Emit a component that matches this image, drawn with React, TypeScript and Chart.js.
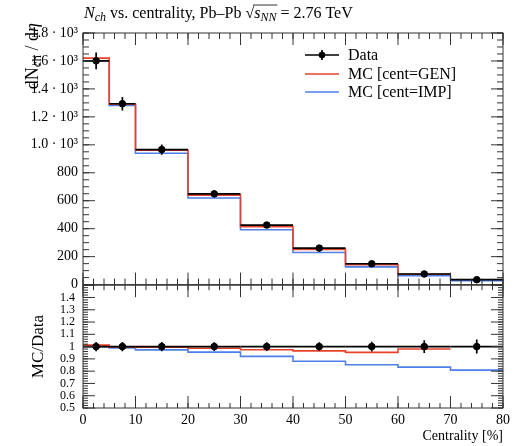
import React, { useEffect, useRef } from "react";
import { Chart, registerables } from "chart.js";
Chart.register(...registerables);

// ---- data ----
const binEdges = [0, 5, 10, 20, 30, 40, 50, 60, 70, 80];
const dataValues = [1601, 1294, 966, 649, 426, 261, 149, 76, 35];
const dataErrors = [60, 49, 37, 23, 15, 9, 6, 4, 2];
const mcGenValues = [1620, 1290, 961, 640, 415, 252, 142, 74.5];
const mcImpValues = [1601, 1281, 940, 620, 392, 230, 127, 63.3, 28.3];

// ---- tick labels ----
const mainTickValues = [0, 200, 400, 600, 800, 1000, 1200, 1400, 1600, 1800];
const mainTickLabels = ["0", "200", "400", "600", "800", "1.0 · 10³", "1.2 · 10³", "1.4 · 10³", "1.6 · 10³", "1.8 · 10³"];
const ratioTickValues = [0.5, 0.6, 0.7, 0.8, 0.9, 1.0, 1.1, 1.2, 1.3, 1.4];
const ratioTickLabels = ["0.5", "0.6", "0.7", "0.8", "0.9", "1", "1.1", "1.2", "1.3", "1.4"];
const xTickValues = [0, 10, 20, 30, 40, 50, 60, 70, 80];
const xTickLabels = ["0", "10", "20", "30", "40", "50", "60", "70", "80"];
const legendLabels = ["Data", "MC [cent=GEN]", "MC [cent=IMP]"];

const RED = "#E8432A";
const BLUE = "#4F7FEA";
const FRAME = "#333";
const SERIF = '"Liberation Serif", "DejaVu Serif", serif';

function stepPoints(vals: number[], denom?: number[]) {
  const pts = vals.map((v, i) => ({ x: binEdges[i], y: denom ? v / denom[i] : v }));
  pts.push({ x: binEdges[vals.length], y: pts[pts.length - 1].y });
  return pts;
}

function labelFor(values: number[], labels: string[]) {
  return (v: any) => {
    const i = values.findIndex((t) => Math.abs(t - Number(v)) < 1e-6);
    return i >= 0 ? labels[i] : "";
  };
}

function range(a: number, b: number, s: number) {
  const out: number[] = [];
  for (let v = a; v <= b + 1e-9; v += s) out.push(Math.round(v * 1000) / 1000);
  return out;
}

function framePlugin(yMajor: number[], yMinor: number[], majLen: number, minLen: number) {
  const xMinor = range(0, 80, 2);
  return {
    id: "frameTicks",
    afterDatasetsDraw(chart: any) {
      const { ctx, chartArea: a } = chart;
      const xs = chart.scales.x;
      const ys = chart.scales.y;
      ctx.save();
      ctx.strokeStyle = FRAME;
      ctx.lineWidth = 1;
      ctx.strokeRect(a.left, a.top, a.right - a.left, a.bottom - a.top);
      ctx.beginPath();
      const xt = (v: number, len: number) => {
        const px = xs.getPixelForValue(v);
        ctx.moveTo(px, a.bottom);
        ctx.lineTo(px, a.bottom - len);
        ctx.moveTo(px, a.top);
        ctx.lineTo(px, a.top + len);
      };
      const yt = (v: number, len: number) => {
        const py = ys.getPixelForValue(v);
        ctx.moveTo(a.left, py);
        ctx.lineTo(a.left + len, py);
        ctx.moveTo(a.right, py);
        ctx.lineTo(a.right - len, py);
      };
      xMinor.forEach((v) => xt(v, minLen));
      xTickValues.forEach((v) => xt(v, majLen));
      yMinor.forEach((v) => yt(v, minLen));
      yMajor.forEach((v) => yt(v, majLen));
      ctx.stroke();
      ctx.restore();
    },
  };
}

function dataMarksPlugin(ratio: boolean) {
  return {
    id: "dataMarks",
    afterDatasetsDraw(chart: any) {
      const { ctx } = chart;
      const xs = chart.scales.x;
      const ys = chart.scales.y;
      ctx.save();
      ctx.strokeStyle = "#000";
      ctx.fillStyle = "#000";
      ctx.lineWidth = 1.7;
      dataValues.forEach((v, i) => {
        const y = ratio ? 1 : v;
        const e = ratio ? dataErrors[i] / v : dataErrors[i];
        const x0 = xs.getPixelForValue(binEdges[i]);
        const x1 = xs.getPixelForValue(binEdges[i + 1]);
        const xc = xs.getPixelForValue((binEdges[i] + binEdges[i + 1]) / 2);
        const py = ys.getPixelForValue(y);
        ctx.beginPath();
        ctx.moveTo(x0, py);
        ctx.lineTo(x1, py);
        ctx.moveTo(xc, ys.getPixelForValue(y - e));
        ctx.lineTo(xc, ys.getPixelForValue(y + e));
        ctx.stroke();
      });
      ctx.restore();
    },
  };
}

type Piece = { t: string; font: string; dy?: number };
function drawPieces(ctx: CanvasRenderingContext2D, x: number, y: number, pieces: Piece[]) {
  for (const p of pieces) {
    ctx.font = p.font;
    ctx.fillText(p.t, x, y + (p.dy || 0));
    x += ctx.measureText(p.t).width;
  }
  return x;
}

const textPlugin = {
  id: "texts",
  afterDraw(chart: any) {
    const ctx: CanvasRenderingContext2D = chart.ctx;
    ctx.save();
    ctx.fillStyle = "#000";
    ctx.textAlign = "left";
    ctx.textBaseline = "alphabetic";
    // title
    const F = `16px ${SERIF}`;
    const FI = `italic 16px ${SERIF}`;
    const FS = `italic 12px ${SERIF}`;
    let x = drawPieces(ctx, 84, 18, [
      { t: "N", font: FI },
      { t: "ch", font: FS, dy: 3 },
      { t: " vs. centrality, Pb–Pb ", font: F },
      { t: "√", font: F },
    ]);
    const ovStart = x;
    x = drawPieces(ctx, x, 18, [
      { t: "s", font: FI },
      { t: "NN", font: FS, dy: 3 },
    ]);
    ctx.strokeStyle = "#000";
    ctx.lineWidth = 0.8;
    ctx.beginPath();
    ctx.moveTo(ovStart - 1, 5);
    ctx.lineTo(x + 1, 5);
    ctx.stroke();
    drawPieces(ctx, x, 18, [{ t: " = 2.76 TeV", font: F }]);

    // y label (rotated)
    const YL: Piece[] = [
      { t: "dN", font: `18px ${SERIF}` },
      { t: "ch", font: `13px ${SERIF}`, dy: 3 },
      { t: " / d", font: `18px ${SERIF}` },
      { t: "η", font: `italic 18px ${SERIF}` },
    ];
    let w = 0;
    for (const p of YL) {
      ctx.font = p.font;
      w += ctx.measureText(p.t).width;
    }
    ctx.translate(38, 23);
    ctx.rotate(-Math.PI / 2);
    drawPieces(ctx, -w, 0, YL);
    ctx.restore();

    // legend
    ctx.save();
    const lx0 = 305, lx1 = 339, tx = 348;
    const rows = [55, 74, 92];
    ctx.lineWidth = 1.7;
    ctx.strokeStyle = "#000";
    ctx.fillStyle = "#000";
    ctx.beginPath();
    ctx.moveTo(lx0, rows[0]);
    ctx.lineTo(lx1, rows[0]);
    ctx.moveTo((lx0 + lx1) / 2, rows[0] - 5);
    ctx.lineTo((lx0 + lx1) / 2, rows[0] + 5);
    ctx.stroke();
    ctx.beginPath();
    ctx.arc((lx0 + lx1) / 2, rows[0], 3.3, 0, Math.PI * 2);
    ctx.fill();
    [RED, BLUE].forEach((c, k) => {
      ctx.strokeStyle = c;
      ctx.lineWidth = 1.7;
      ctx.beginPath();
      ctx.moveTo(lx0, rows[k + 1]);
      ctx.lineTo(lx1, rows[k + 1]);
      ctx.stroke();
    });
    ctx.font = `16px ${SERIF}`;
    ctx.textBaseline = "middle";
    legendLabels.forEach((l, k) => ctx.fillText(l, tx, rows[k] + 1));
    ctx.restore();
  },
};

const ratioTextPlugin = {
  id: "ratioTexts",
  afterDraw(chart: any) {
    const ctx: CanvasRenderingContext2D = chart.ctx;
    const a = chart.chartArea;
    ctx.save();
    ctx.fillStyle = "#000";
    ctx.font = `17px ${SERIF}`;
    ctx.textAlign = "center";
    ctx.textBaseline = "alphabetic";
    ctx.translate(43, (a.top + a.bottom) / 2);
    ctx.rotate(-Math.PI / 2);
    ctx.fillText("MC/Data", 0, 0);
    ctx.restore();
  },
};

function stepDataset(label: string, pts: any[], color: string) {
  return {
    label,
    data: pts,
    borderColor: color,
    backgroundColor: color,
    borderWidth: 1.6,
    pointRadius: 0,
    stepped: "before" as const,
    fill: false,
  };
}

export default function App() {
  const mainRef = useRef<HTMLCanvasElement>(null);
  const ratioRef = useRef<HTMLCanvasElement>(null);

  useEffect(() => {
    const dataPts = dataValues.map((v, i) => ({ x: (binEdges[i] + binEdges[i + 1]) / 2, y: v }));
    const ratioDataPts = dataValues.map((v, i) => ({ x: (binEdges[i] + binEdges[i + 1]) / 2, y: 1 }));

    const common = {
      responsive: false,
      animation: false as const,
      plugins: { legend: { display: false }, tooltip: { enabled: false }, title: { display: false } },
    };

    const c1 = new Chart(mainRef.current!, {
      type: "line",
      data: {
        datasets: [
          {
            label: "Data",
            data: dataPts,
            showLine: false,
            pointRadius: 3.3,
            pointBackgroundColor: "#000",
            pointBorderColor: "#000",
            borderColor: "#000",
          } as any,
          stepDataset("MC [cent=GEN]", stepPoints(mcGenValues), RED),
          stepDataset("MC [cent=IMP]", stepPoints(mcImpValues), BLUE),
        ],
      },
      options: {
        ...common,
        layout: { padding: { left: 0, right: 17, top: 33, bottom: 7 } },
        scales: {
          x: { type: "linear", min: 0, max: 80, display: false },
          y: {
            type: "linear",
            min: 0,
            max: 1800,
            grid: { display: false, drawTicks: false },
            border: { display: false },
            ticks: {
              stepSize: 200,
              autoSkip: false,
              padding: 5,
              color: "#000",
              font: { family: SERIF, size: 14 },
              callback: labelFor(mainTickValues, mainTickLabels),
            },
            afterFit: (s: any) => {
              s.width = 83;
            },
          },
        },
      } as any,
      plugins: [
        dataMarksPlugin(false),
        framePlugin(mainTickValues, range(0, 1800, 50), 12, 6),
        textPlugin,
      ],
    });

    const c2 = new Chart(ratioRef.current!, {
      type: "line",
      data: {
        datasets: [
          {
            label: "Data",
            data: ratioDataPts,
            showLine: false,
            pointRadius: 3.3,
            pointBackgroundColor: "#000",
            pointBorderColor: "#000",
            borderColor: "#000",
          } as any,
          stepDataset("MC [cent=GEN]", stepPoints(mcGenValues, dataValues), RED),
          stepDataset("MC [cent=IMP]", stepPoints(mcImpValues, dataValues), BLUE),
        ],
      },
      options: {
        ...common,
        layout: { padding: { left: 0, right: 17, top: 4, bottom: 0 } },
        scales: {
          x: {
            type: "linear",
            min: 0,
            max: 80,
            grid: { display: false, drawTicks: false },
            border: { display: false },
            ticks: {
              stepSize: 10,
              autoSkip: false,
              padding: 4,
              maxRotation: 0,
              color: "#000",
              font: { family: SERIF, size: 14 },
              callback: labelFor(xTickValues, xTickLabels),
            },
            title: {
              display: true,
              text: "Centrality [%]",
              align: "end",
              color: "#000",
              font: { family: SERIF, size: 14 },
              padding: { top: 0, bottom: 1 },
            },
            afterFit: (s: any) => {
              s.height = 38;
            },
          },
          y: {
            type: "linear",
            min: 0.5,
            max: 1.5,
            grid: { display: false, drawTicks: false },
            border: { display: false },
            ticks: {
              stepSize: 0.1,
              autoSkip: false,
              padding: 8,
              color: "#000",
              font: { family: SERIF, size: 12 },
              callback: labelFor(ratioTickValues, ratioTickLabels),
            },
            afterFit: (s: any) => {
              s.width = 83;
            },
          },
        },
      } as any,
      plugins: [
        dataMarksPlugin(true),
        framePlugin(range(0.5, 1.5, 0.1), range(0.5, 1.5, 0.02), 12, 5),
        ratioTextPlugin,
      ],
    });

    return () => {
      c1.destroy();
      c2.destroy();
    };
  }, []);

  return (
    <div style={{ position: "absolute", left: 0, top: 0, width: 520, height: 446, background: "#fff" }}>
      <canvas ref={mainRef} width={520} height={298} style={{ position: "absolute", left: 0, top: 0 }} />
      <canvas ref={ratioRef} width={520} height={176} style={{ position: "absolute", left: 0, top: 270 }} />
    </div>
  );
}
